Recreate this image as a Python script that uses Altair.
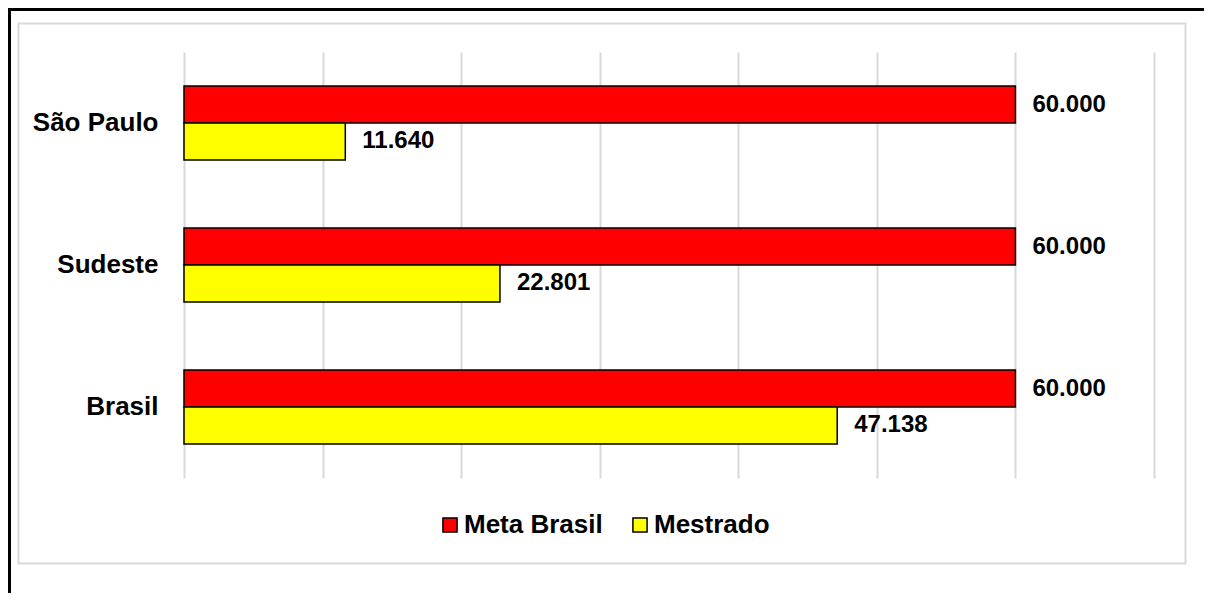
import altair as alt
import pandas as pd

categories = ["São Paulo", "Sudeste", "Brasil"]
series = ["Meta Brasil", "Mestrado"]
meta_values = [60000, 60000, 60000]
mestrado_values = [11640, 22801, 47138]
colors = ["#FF0000", "#FFFF00"]
grid_ticks = [0, 10000, 20000, 30000, 40000, 50000, 60000, 70000]

rows = []
for c, m, s in zip(categories, meta_values, mestrado_values):
    rows.append({"cat": c, "series": "Meta Brasil", "value": m})
    rows.append({"cat": c, "series": "Mestrado", "value": s})
df = pd.DataFrame(rows)
df["label"] = df["value"].map(lambda v: f"{v:,}".replace(",", "."))

FONT = "Liberation Sans"
W, H = 970, 426

y_enc = alt.Y("cat:N", sort=categories,
              scale=alt.Scale(paddingInner=0.479, paddingOuter=0.2395),
              axis=alt.Axis(title=None, domain=False, ticks=False, grid=False,
                            labelFont=FONT, labelFontSize=26, labelFontWeight="bold",
                            labelColor="#000000", labelPadding=26))
yoff = alt.YOffset("series:N", sort=series,
                   scale=alt.Scale(paddingInner=0, paddingOuter=0))
x_enc = alt.X("value:Q", scale=alt.Scale(domain=[0, 70000], nice=False),
              axis=alt.Axis(title=None, values=grid_ticks, labels=False, ticks=False,
                            domain=False, grid=True, gridColor="#d9d9d9", gridWidth=2))

base = alt.Chart(df)

bars = base.mark_bar(stroke="#000000", strokeWidth=1.5).encode(
    x=x_enc,
    y=y_enc,
    yOffset=yoff,
    color=alt.Color("series:N", sort=series,
                    scale=alt.Scale(domain=series, range=colors),
                    legend=alt.Legend(title=None, orient="none", direction="horizontal",
                                      columns=2, legendX=253, legendY=460,
                                      symbolType="square", symbolSize=200,
                                      symbolStrokeColor="#000000", symbolStrokeWidth=1.5,
                                      labelFont=FONT, labelFontSize=26,
                                      labelFontWeight="bold", labelColor="#000000",
                                      labelOffset=1, columnPadding=24)),
)

text = base.mark_text(align="left", baseline="middle", dx=17, font=FONT,
                      fontSize=24, fontWeight="bold", color="#000000").encode(
    x="value:Q",
    y=alt.Y("cat:N", sort=categories),
    yOffset=alt.YOffset("series:N", sort=series),
    text="label:N",
)

deco = pd.DataFrame({"k": [0]})
inner_border = alt.Chart(deco).mark_rect(fill="transparent", stroke="#d9d9d9",
                                         strokeWidth=2).encode(
    x=alt.value(-165.5), x2=alt.value(1001.5), y=alt.value(-28.5), y2=alt.value(511.5))
black_left = alt.Chart(deco).mark_rule(color="#000000", strokeWidth=3).encode(
    x=alt.value(-174.5), y=alt.value(-44), y2=alt.value(541))
black_top = alt.Chart(deco).mark_rule(color="#000000", strokeWidth=3).encode(
    x=alt.value(-176), x2=alt.value(1020), y=alt.value(-42.5))

chart = alt.layer(inner_border, bars, text, black_left, black_top).properties(
    width=W, height=H,
    autosize=alt.AutoSizeParams(type="none"),
    padding={"left": 176, "top": 44, "right": 50, "bottom": 115},
    background="#ffffff",
).configure_view(stroke=None)

chart.save("out.html", embed_options={"renderer": "svg", "actions": False})
